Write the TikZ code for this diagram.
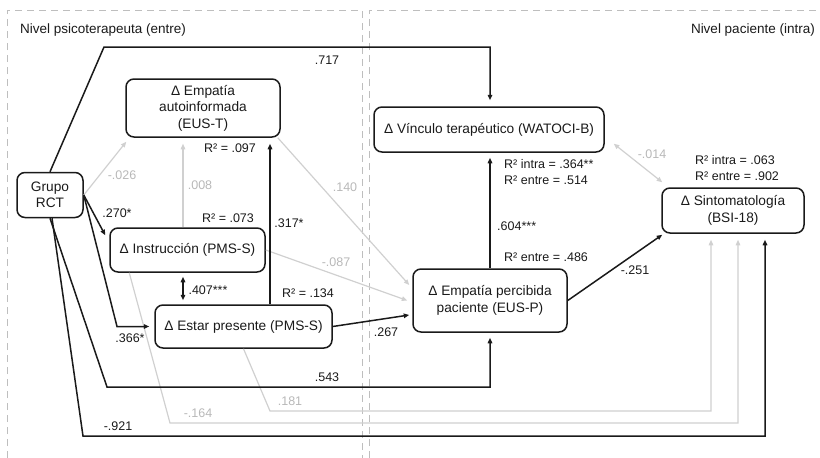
\documentclass[tikz,border=0pt]{standalone}
\usepackage{fontspec}
\setmainfont{Liberation Sans}
\usetikzlibrary{arrows.meta,calc}

\definecolor{ink}{HTML}{1A1A1A}
\definecolor{faint}{HTML}{D0D0D0}
\definecolor{faintlbl}{HTML}{B8B8B8}
\definecolor{panel}{HTML}{BEBEBE}

\begin{document}
\begin{tikzpicture}[x=1pt,y=-1pt,
  var/.style={draw=ink,line width=1.5pt,rounded corners=8pt,align=center,
    inner sep=0pt,font=\fontsize{13.7}{16.5}\selectfont,text=ink},
  blk/.style={draw=ink,line width=1.5pt},
  gry/.style={draw=faint,line width=1.2pt},
  tip/.style={-{Triangle[length=5.5pt,width=4.5pt]}},
  tips/.style={{Triangle[length=5.5pt,width=4.5pt]}-{Triangle[length=5.5pt,width=4.5pt]}},
  lbl/.style={font=\fontsize{12.5}{15.5}\selectfont,inner sep=0pt,text=ink},
  glbl/.style={lbl,text=faintlbl},
  lvl/.style={font=\fontsize{13.5}{16}\selectfont,inner sep=0pt,text=ink},
  panelbox/.style={draw=panel,line width=1pt,dash pattern=on 7pt off 5pt},
]
\useasboundingbox (0,0) rectangle (820,458);

% level panels
\draw[panelbox] (7,470) -- (7,10) -- (362,10) -- (362,470);
\draw[panelbox] (369,470) -- (369,10) -- (830,10);
\node[lvl,anchor=west] (lvlT) at (20,30) {Nivel psicoterapeuta (entre)};
\node[lvl,anchor=east] (lvlP) at (815,30) {Nivel paciente (intra)};

% variables
\node[var,minimum width=66pt,minimum height=45pt] (grupo) at (50,195) {Grupo\\RCT};
\node[var,minimum width=154pt,minimum height=58pt] (autoinf) at (203,108) {Δ Empatía\\autoinformada\\(EUS-T)};
\node[var,minimum width=155pt,minimum height=44pt] (instr) at (187.5,250) {Δ Instrucción (PMS-S)};
\node[var,minimum width=177pt,minimum height=43pt] (estar) at (243.5,326.5) {Δ Estar presente (PMS-S)};
\node[var,minimum width=230pt,minimum height=45pt] (vinculo) at (489,129.5) {Δ Vínculo terapéutico (WATOCI-B)};
\node[var,minimum width=154pt,minimum height=63pt] (percib) at (490,300.5) {Δ Empatía percibida\\paciente (EUS-P)};
\node[var,minimum width=142pt,minimum height=45pt] (sinto) at (733,210.5) {Δ Sintomatología\\(BSI-18)};

% non-significant paths
\draw[gry,tip] (grupo.east) -- ($(autoinf.south west)+(1,4)$);
\draw[gry,tip] ($(instr.north)+(-4.5,0)$) -- ($(autoinf.south)+(-20,6)$);
\draw[gry,tip] ($(autoinf.south east)+(-3,0)$) -- ($(percib.west)+(-3,-15.5)$);
\draw[gry,tip] (instr.east) -- ($(percib.west)+(-5,0)$);
\draw[gry,tips] ($(vinculo.south east)+(9,-9)$) -- ($(sinto.north west)+(1,-5)$);
\draw[gry,tip] ($(instr.south west)+(20,0)$) -- (170,423) -| ($(sinto.south)+(5,6)$);
\draw[gry,tip] (estar.south) -- (270,411) -| ($(sinto.south)+(-22,6)$);

% main paths
\draw[blk,tip] (grupo.north) -- (104,47) -| ($(vinculo.north)+(1,-6)$);
\draw[blk,tip] (grupo.east) -- ($(instr.north west)+(-4,8)$);
\draw[blk,tip] (grupo.east) -- (117,326.5) -- ($(estar.west)+(-5,0)$);
\draw[blk,tip] (grupo.south) -- (107,387) -| ($(percib.south)+(0,5)$);
\draw[blk,tip] ($(grupo.south)+(2,0)$) -- (83,436) -| ($(sinto.south)+(32,6)$);
\draw[blk,tip] ($(estar.north)+(26.5,0)$) -- ($(autoinf.south)+(67,6)$);
\draw[blk,tips] ($(instr.south)+(-4.5,4)$) -- ($(estar.north)+(-60.5,-4)$);
\draw[blk,tip] (estar.east) -- ($(percib.west)+(-3,14.5)$);
\draw[blk,tip] (percib.north) -- ($(vinculo.south)+(1,5)$);
\draw[blk,tip] (percib.east) -- ($(sinto.south west)+(1,1)$);

% coefficients
\node[lbl] (c717) at (327,60) {.717};
\node[glbl] (c026) at (122,175) {-.026};
\node[glbl] (c008) at (200,185) {.008};
\node[lbl] (c270) at (117,213) {.270*};
\node[lbl] (c317) at (289,223) {.317*};
\node[glbl] (c140) at (345,187) {.140};
\node[glbl] (c087) at (336,262) {-.087};
\node[lbl] (c407) at (208,290) {.407***};
\node[lbl] (c366) at (130,338) {.366*};
\node[lbl] (c267) at (386,332) {.267};
\node[lbl] (c543) at (327,377) {.543};
\node[glbl] (c181) at (290,401) {.181};
\node[glbl] (c164) at (198,413) {-.164};
\node[lbl] (c921) at (118,426) {-.921};
\node[lbl,anchor=west] (c604) at (497,226) {.604***};
\node[lbl] (c251) at (635,270) {-.251};
\node[glbl] (c014) at (652,154) {-.014};

% explained variance
\node[lbl] (r097) at (230,148) {R² = .097};
\node[lbl] (r073) at (228,218) {R² = .073};
\node[lbl] (r134) at (308,293) {R² = .134};
\node[lbl,anchor=west] (r364) at (504,164) {R² intra = .364**};
\node[lbl,anchor=west] (r514) at (504,180) {R² entre = .514};
\node[lbl,anchor=west] (r486) at (504,257) {R² entre = .486};
\node[lbl,anchor=west] (r063) at (695,160) {R² intra = .063};
\node[lbl,anchor=west] (r902) at (695,176) {R² entre = .902};
\end{tikzpicture}
\end{document}
